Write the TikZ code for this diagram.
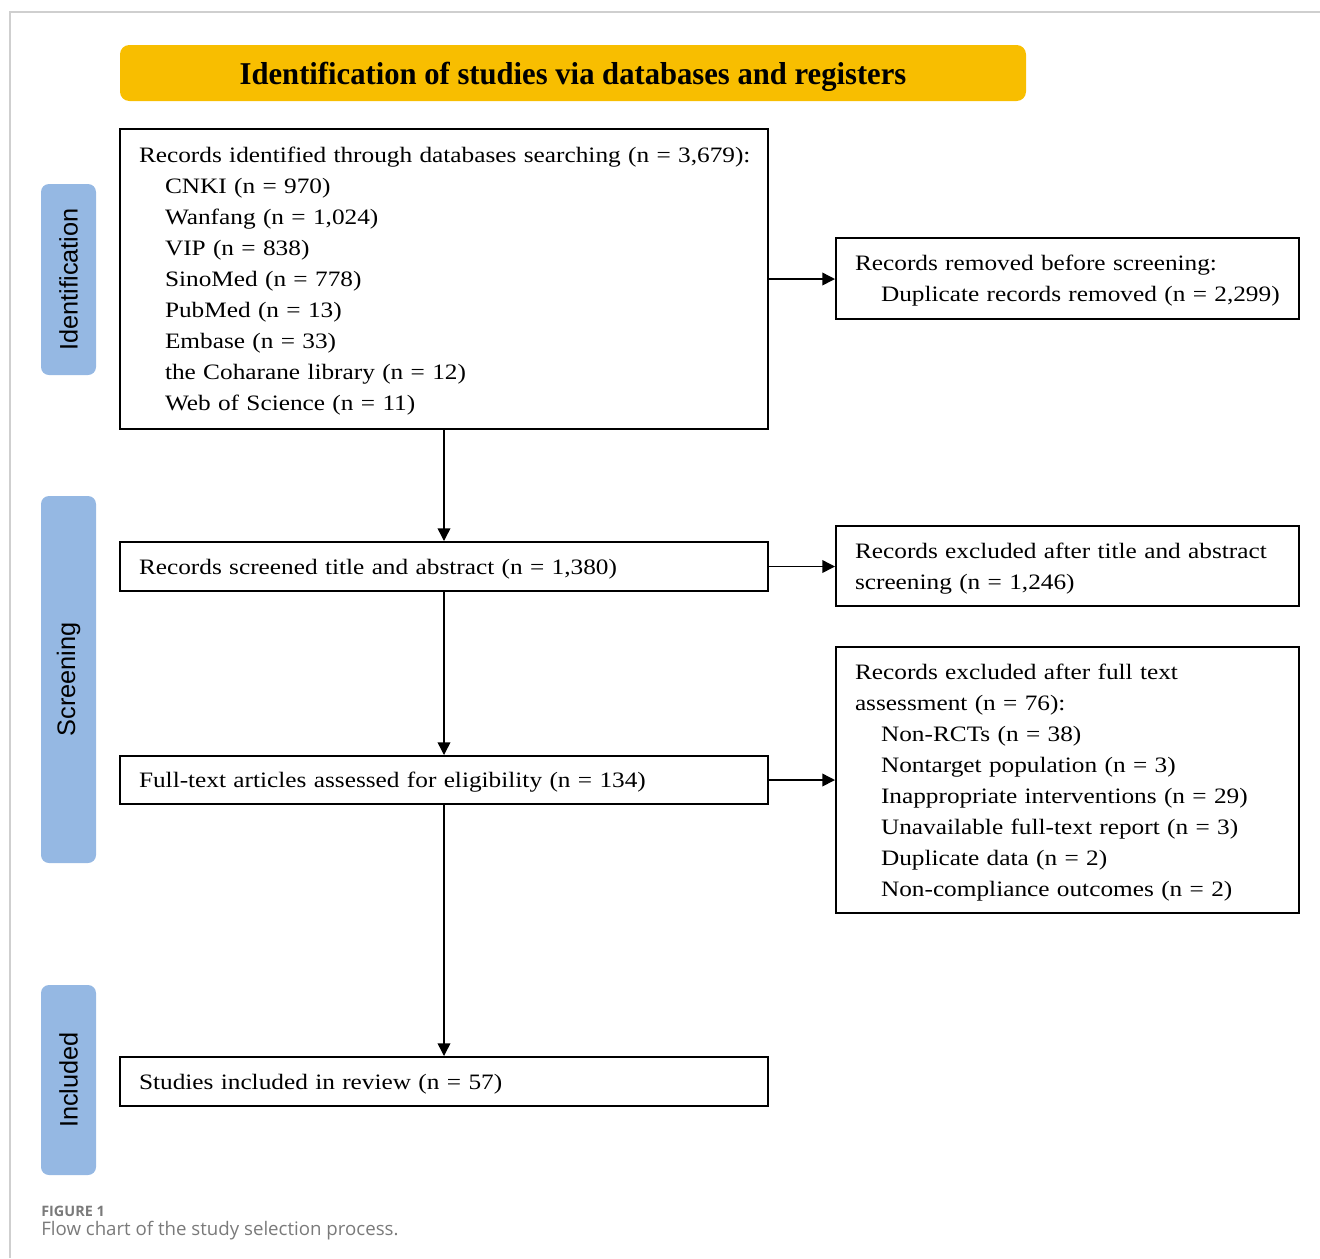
\documentclass[tikz,border=0pt]{standalone}
\usepackage{fontspec}
\setmainfont{Liberation Serif}
\newfontfamily\boxfont[FakeStretch=1.15]{Liberation Serif}
\newfontfamily\sidefont{Liberation Sans}
\newfontfamily\capfont{Open Sans}
\usetikzlibrary{arrows.meta}
\definecolor{hdr}{HTML}{F8BE00}
\definecolor{side}{HTML}{95B8E3}
\definecolor{framegray}{HTML}{CFCFCF}
\definecolor{capgray}{HTML}{7A7A7A}
\newcommand{\ind}{\hspace*{19.5pt}}
\newcommand{\tstrut}{\rule{0pt}{15pt}}
\begin{document}
\begin{tikzpicture}[x=0.75pt,y=-0.75pt,
  box/.style={draw=black, line width=1.5pt, rectangle, inner xsep=14.25pt, inner ysep=0pt, align=left,
    font=\boxfont\fontsize{16.5}{23.25}\selectfont},
  widebox/.style={box, minimum width=486pt, text width=457.5pt},
  sidebox/.style={box, minimum width=347.25pt, text width=318.75pt},
  phase/.style={fill=side, rounded corners=6pt, rotate=90, inner sep=0pt, minimum height=41.25pt,
    font=\sidefont\fontsize{19}{22}\selectfont},
  arr/.style={line width=1.1pt, -{Triangle[length=9.5pt,width=9.5pt]}}
]
\useasboundingbox (0,0) rectangle (1320,1258);
\draw[framegray, line width=1pt] (10,1258) -- (10,12) -- (1320,12);

\node[fill=hdr, rounded corners=7pt, minimum width=679.5pt, minimum height=42pt, inner sep=0pt,
  text height=20pt, text depth=3pt] (hdr) at (573,73)
  {\resizebox{500pt}{\height}{\bfseries\fontsize{23.8}{26}\selectfont Identification of studies via databases and registers}};

\node[phase, minimum width=143.25pt] (pid) at (68.5,279.5) {Identification};
\node[phase, minimum width=275.25pt] (pscr) at (68.5,679.5) {Screening};
\node[phase, minimum width=142.5pt] (pinc) at (68.5,1080) {Included};

\node[widebox, minimum height=225pt] (b1) at (444,279) {\tstrut\mbox{Records identified through databases searching (n = 3,679):}\\
\ind CNKI (n = 970)\\
\ind Wanfang (n = 1,024)\\
\ind VIP (n = 838)\\
\ind SinoMed (n = 778)\\
\ind PubMed (n = 13)\\
\ind Embase (n = 33)\\
\ind the Coharane library (n = 12)\\
\ind Web of Science (n = 11)};

\node[sidebox, minimum height=60.75pt] (b2) at (1067.5,278.5) {\tstrut Records removed before screening:\\
\ind\mbox{Duplicate records removed (n = 2,299)}};

\node[widebox, minimum height=36.75pt] (b3) at (444,566.5) {\tstrut Records screened title and abstract (n = 1,380)};

\node[sidebox, minimum height=60pt] (b4) at (1067.5,566) {\tstrut\mbox{Records excluded after title and abstract}\\
screening (n = 1,246)};

\node[widebox, minimum height=36pt] (b5) at (444,780) {\tstrut Full-text articles assessed for eligibility (n = 134)};

\node[sidebox, minimum height=199.5pt] (b6) at (1067.5,780) {\tstrut Records excluded after full text\\
assessment (n = 76):\\
\ind Non-RCTs (n = 38)\\
\ind Nontarget population (n = 3)\\
\ind\mbox{Inappropriate interventions (n = 29)}\\
\ind\mbox{Unavailable full-text report (n = 3)}\\
\ind Duplicate data (n = 2)\\
\ind\mbox{Non-compliance outcomes (n = 2)}};

\node[widebox, minimum height=36.75pt] (b7) at (444,1081.5) {\tstrut Studies included in review (n = 57)};

\draw[arr] (b1.east) -- (b1.east -| b2.west);
\draw[arr] (b1.south) -- (b3.north);
\draw[arr] (b3.east) -- (b3.east -| b4.west);
\draw[arr] (b3.south) -- (b5.north);
\draw[arr] (b5.east) -- (b5.east -| b6.west);
\draw[arr] (b5.south) -- (b7.north);

\node[anchor=base west, inner sep=0pt, text=capgray, font=\capfont\bfseries\fontsize{10.8}{13}\selectfont] (figlab) at (41,1216) {FIGURE 1};
\node[anchor=base west, inner sep=0pt, text=capgray, font=\capfont\fontsize{14}{17}\selectfont] (figcap) at (41,1235) {Flow chart of the study selection process.};
\end{tikzpicture}
\end{document}
